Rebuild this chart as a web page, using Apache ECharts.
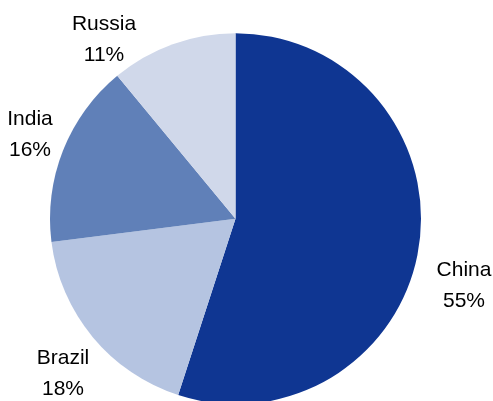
<!DOCTYPE html>
<html>
<head>
<meta charset="utf-8">
<script src="https://cdn.jsdelivr.net/npm/echarts@6/dist/echarts.min.js"></script>
<style>
  html, body { margin: 0; padding: 0; background: #ffffff; }
  #chart { width: 493px; height: 401px; }
</style>
</head>
<body>
<div id="chart"></div>
<script>
// Share of total by country (percent), drawn clockwise from 12 o'clock
const countries = ['China', 'Brazil', 'India', 'Russia'];
const shares = [55, 18, 16, 11];

const sliceColors = ['#0f3692', '#b5c4e1', '#6080b8', '#d0d8ea'];
// Label block centres (px) for each slice
const labelSpots = [[464, 286], [63, 374], [30, 135], [104, 40]];

const chart = echarts.init(document.getElementById('chart'), null, { renderer: 'canvas' });

chart.setOption({
  backgroundColor: '#ffffff',
  animation: false,
  series: [{
    type: 'pie',
    center: [235.5, 218.7],
    radius: 185.5,
    startAngle: 90,
    clockwise: true,
    avoidLabelOverlap: false,
    data: countries.map((name, i) => ({
      name: name,
      value: shares[i],
      itemStyle: { color: sliceColors[i] }
    })),
    itemStyle: { borderWidth: 0 },
    emphasis: { disabled: true },
    label: {
      show: true,
      position: 'outside',
      formatter: '{b}\n{c}%',
      fontFamily: 'Liberation Sans, Arial, sans-serif',
      fontSize: 21,
      lineHeight: 31,
      color: '#000000',
      align: 'center'
    },
    labelLine: { show: false },
    labelLayout: function (params) {
      const p = labelSpots[params.dataIndex];
      return { x: p[0], y: p[1], align: 'center', verticalAlign: 'middle' };
    }
  }]
});
</script>
</body>
</html>
